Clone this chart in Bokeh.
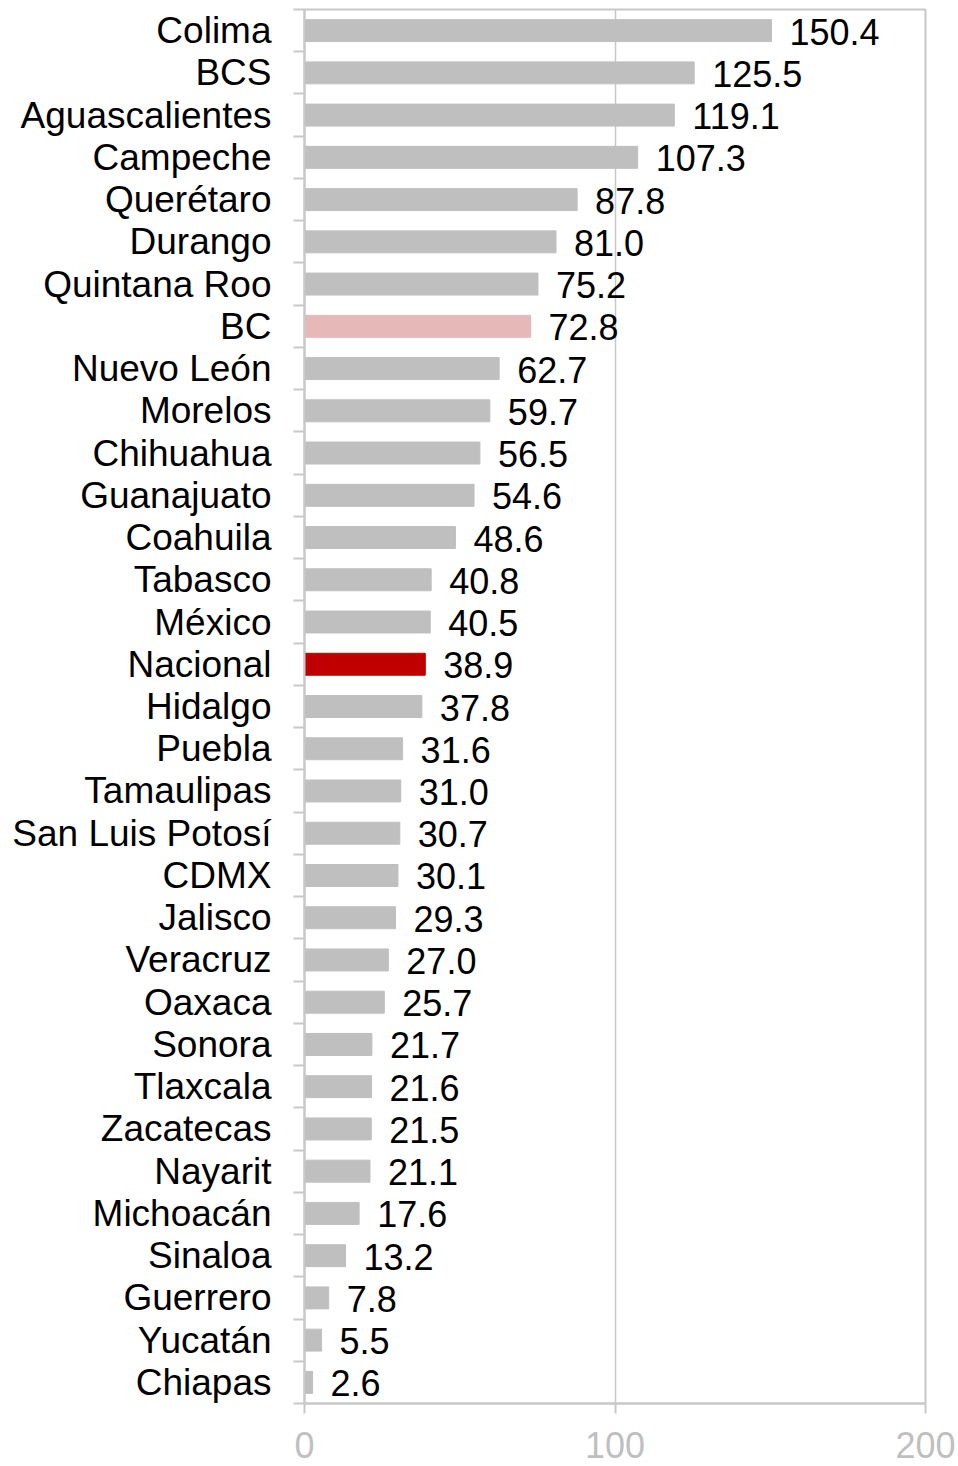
from bokeh.plotting import figure
from bokeh.models import Range1d, LinearAxis, FixedTicker, ColumnDataSource
from bokeh.core.properties import value
from bokeh.embed import file_html
from bokeh.resources import INLINE

states = ["Colima", "BCS", "Aguascalientes", "Campeche", "Querétaro", "Durango",
          "Quintana Roo", "BC", "Nuevo León", "Morelos", "Chihuahua", "Guanajuato",
          "Coahuila", "Tabasco", "México", "Nacional", "Hidalgo", "Puebla",
          "Tamaulipas", "San Luis Potosí", "CDMX", "Jalisco", "Veracruz", "Oaxaca",
          "Sonora", "Tlaxcala", "Zacatecas", "Nayarit", "Michoacán", "Sinaloa",
          "Guerrero", "Yucatán", "Chiapas"]
rates = [150.4, 125.5, 119.1, 107.3, 87.8, 81.0, 75.2, 72.8, 62.7, 59.7, 56.5, 54.6,
         48.6, 40.8, 40.5, 38.9, 37.8, 31.6, 31.0, 30.7, 30.1, 29.3, 27.0, 25.7,
         21.7, 21.6, 21.5, 21.1, 17.6, 13.2, 7.8, 5.5, 2.6]
x_ticks = [0, 100, 200]

highlight = {"BC": "#E6B8B7", "Nacional": "#C00000"}
base_color = "#BFBFBF"
axis_gray = "#C8C8C8"
FONT = "Liberation Sans"

n = len(states)
pos = [n - i for i in range(n)]
colors = [highlight.get(s, base_color) for s in states]
labels = [f"{v:.1f}" for v in rates]

src = ColumnDataSource(dict(state=states, rate=rates, y=pos, color=colors, label=labels))

p = figure(width=958, height=1466, output_backend="svg", toolbar_location=None,
           x_range=Range1d(0, 200), y_range=Range1d(0.5, n + 0.5),
           y_axis_type=None, min_border_left=304, min_border_right=33,
           min_border_top=9, min_border_bottom=63)

p.hbar(y="y", left=0, right="rate", height=0.52, color="color", source=src)
p.text(x="rate", y="y", text="label", source=src, x_offset=18, y_offset=1,
       text_baseline="middle", text_align="left", text_color="black",
       text_font=value(FONT), text_font_size="36px")

yax = LinearAxis(ticker=FixedTicker(ticks=pos, minor_ticks=[k + 0.5 for k in range(n + 1)]),
                 major_label_overrides={pp: s for pp, s in zip(pos, states)})
yax.major_tick_in = 0
yax.major_tick_out = 0
yax.minor_tick_in = 0
yax.minor_tick_out = 11
yax.minor_tick_line_color = axis_gray
yax.minor_tick_line_width = 2
yax.axis_line_color = axis_gray
yax.axis_line_width = 2
yax.major_label_standoff = 22
yax.major_label_text_font = FONT
yax.major_label_text_font_size = "37px"
yax.major_label_text_color = "black"
p.add_layout(yax, "left")

xax = p.xaxis[0]
xax.ticker = FixedTicker(ticks=x_ticks)
xax.major_tick_in = 0
xax.major_tick_out = 10
xax.major_tick_line_color = axis_gray
xax.major_tick_line_width = 2
xax.minor_tick_line_color = None
xax.axis_line_color = axis_gray
xax.axis_line_width = 2
xax.major_label_standoff = 18
xax.major_label_text_font = FONT
xax.major_label_text_font_size = "36px"
xax.major_label_text_color = "#BFBFBF"

p.xgrid.ticker = FixedTicker(ticks=x_ticks[1:])
p.xgrid.grid_line_color = axis_gray
p.xgrid.grid_line_width = 1.5

p.outline_line_color = axis_gray
p.outline_line_width = 2
p.background_fill_color = "white"
p.border_fill_color = "white"

open("out.html", "w").write(file_html(p, INLINE))
